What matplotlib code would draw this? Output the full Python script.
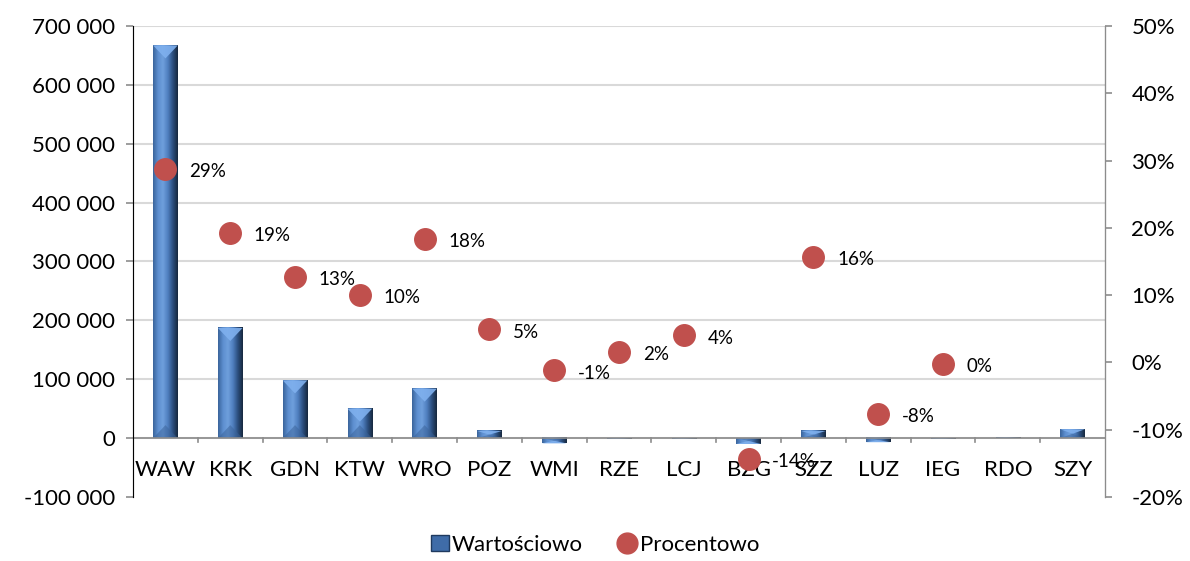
import numpy as np
import matplotlib.pyplot as plt
from matplotlib.patches import Polygon, Patch
from matplotlib.lines import Line2D
from matplotlib.colors import LinearSegmentedColormap

plt.rcParams['font.family'] = ['Lato', 'DejaVu Sans']

airports = ["WAW", "KRK", "GDN", "KTW", "WRO", "POZ", "WMI", "RZE", "LCJ",
            "BZG", "SZZ", "LUZ", "IEG", "RDO", "SZY"]
wartosciowo = [667000, 187000, 98000, 50000, 84000, 12000, -9000, -1000, -1000,
               -10000, 12000, -7000, -1500, -500, 15000]
procentowo = [28.8, 19.3, 12.7, 10.0, 18.4, 4.9, -1.2, 1.6, 4.0,
              -14.3, 15.7, -7.6, -0.2, np.nan, np.nan]
proc_labels = ["29%", "19%", "13%", "10%", "18%", "5%", "-1%", "2%", "4%",
               "-14%", "16%", "-8%", "0%", "", ""]

fig = plt.figure(figsize=(11.9, 5.61), dpi=100)
ax = fig.add_axes([0.1118, 0.1141, 0.8168, 0.8396])
ax2 = ax.twinx()

x = np.arange(len(airports))
w = 0.38
cmap = LinearSegmentedColormap.from_list(
    "bevel", ["#3b659c", "#5d8fd0", "#6f9fdc", "#4f7fbf", "#2c4f7f", "#17293f"])
grad = np.linspace(0, 1, 64).reshape(1, -1)

ylo, yhi = -100000, 700000
px = (yhi - ylo) / (0.8396 * 561)  # data units per pixel
for xi, v in zip(x, wartosciowo):
    ax.imshow(grad, cmap=cmap, aspect='auto', zorder=2,
              extent=(xi - w / 2, xi + w / 2, 0, v), origin='lower')
    h = min(13 * px, abs(v) / 2) * np.sign(v)
    ax.add_patch(Polygon([(xi - w / 2, v), (xi + w / 2, v), (xi, v - h)],
                         closed=True, fc="#7fb0ee", ec="none", zorder=3, alpha=0.9))
    ax.add_patch(Polygon([(xi - w / 2, 0), (xi + w / 2, 0), (xi, h)],
                         closed=True, fc="#3a6298", ec="none", zorder=3, alpha=0.5))

ax.set_xlim(-0.5, len(airports) - 0.5)
ax.set_ylim(ylo, yhi)
ax.set_yticks(np.arange(-100000, 700001, 100000))
ax.set_yticklabels([f"{t:,}".replace(",", " ") for t in range(-100000, 700001, 100000)],
                   fontsize=16)
for t in range(0, 700001, 100000):
    ax.axhline(t, color="#d9d9d9", lw=1.5, zorder=0)
ax.axhline(0, color="#8c8c8c", lw=1.2, zorder=4)
ax.set_xticks([])
for b in np.arange(0.5, len(airports) - 0.5, 1):
    ax.plot([b, b], [0, -6000], color="#8c8c8c", lw=1.2, zorder=4, clip_on=False)
for xi, name in zip(x, airports):
    ax.text(xi, -55000, name, ha="center", va="center", fontsize=16, zorder=5)

for s in ["top", "bottom"]:
    ax.spines[s].set_visible(False)
    ax2.spines[s].set_visible(False)
ax.spines["left"].set_color("#8c8c8c")
ax2.spines["right"].set_color("#8c8c8c")
ax.tick_params(axis="y", color="#8c8c8c", length=5, width=1.2, pad=8)

ax2.plot(x, procentowo, "o", color="#c0504d", ms=15.5, zorder=6)
for xi, p, lab in zip(x, procentowo, proc_labels):
    if lab:
        ax2.annotate(lab, (xi, p), xytext=(17, -2), textcoords="offset points",
                     ha="left", va="center", fontsize=13.5)
ax2.set_ylim(-20, 50)
ax2.set_yticks(np.arange(-20, 51, 10))
ax2.set_yticklabels([f"{t}%" for t in range(-20, 51, 10)], fontsize=16)
ax2.tick_params(axis="y", color="#8c8c8c", length=5, width=1.2, pad=14)

handles = [Patch(facecolor="#3f6ca8", edgecolor="#1f3a5f", label="Wartościowo"),
           Line2D([], [], marker="o", ls="none", color="#c0504d", ms=15, label="Procentowo")]
fig.legend(handles=handles, loc="lower center", ncol=2, frameon=False, fontsize=16,
           bbox_to_anchor=(0.5, -0.025), handlelength=0.8, handletextpad=0.15,
           columnspacing=1.6)

fig.savefig("out.png", dpi=100)
